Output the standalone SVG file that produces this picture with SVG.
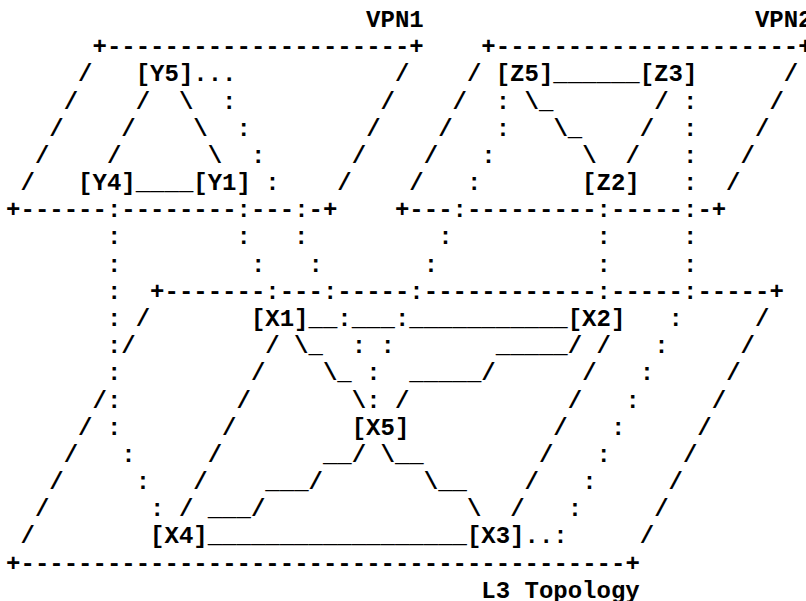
<svg xmlns="http://www.w3.org/2000/svg" width="806" height="601" viewBox="0 0 806 601">
<style>
.t{font-family:"Liberation Mono","Courier New",monospace;font-size:24px;font-weight:bold;fill:#000;white-space:pre}
</style>
<rect x="0" y="0" width="806" height="601" fill="#fff"/>
<g id="labels">
<g id="label-vpn1"><text class="t" x="366.1" y="27">VPN1</text></g>
<g id="label-vpn2"><text class="t" x="754.9" y="27">VPN2</text></g>
<g id="label-l3"><text class="t" x="481.3" y="597.8">L3 Topology</text></g>
</g>
<g id="connectors" xml:space="preserve">
<text class="t" x="92.5" y="54.18">+---------------------+    +---------------------+</text>
<text class="t" x="78.1" y="81.36">/</text>
<text class="t" x="193.3" y="81.36">...           /    /</text>
<text class="t" x="553.3" y="81.36">______</text>
<text class="t" x="783.7" y="81.36">/</text>
<text class="t" x="63.7" y="108.54">/    /  \  :          /    /  : \_       / :     /</text>
<text class="t" x="49.3" y="135.72">/    /    \  :        /    /   :   \_    /  :    /</text>
<text class="t" x="34.9" y="162.9">/    /      \  :      /    /   :      \  /   :   /</text>
<text class="t" x="20.5" y="190.08">/</text>
<text class="t" x="135.7" y="190.08">____</text>
<text class="t" x="265.3" y="190.08">:    /    /   :</text>
<text class="t" x="682.9" y="190.08">:  /</text>
<text class="t" x="6.1" y="217.26">+------:--------:---:-+    +---:---------:-----:-+</text>
<text class="t" x="106.9" y="244.44">:        :   :         :          :     :</text>
<text class="t" x="106.9" y="271.62">:         :   :       :           :     :</text>
<text class="t" x="106.9" y="298.8">:  +-------:---:-----:------------:-----:-----+</text>
<text class="t" x="106.9" y="325.98">: /</text>
<text class="t" x="308.5" y="325.98">__:___:___________</text>
<text class="t" x="668.5" y="325.98">:     /</text>
<text class="t" x="106.9" y="353.16">:/         / \_  : :       _____/ /   :     /</text>
<text class="t" x="106.9" y="380.34">:         /    \_ :  _____/      /   :     /</text>
<text class="t" x="92.5" y="407.52">/:        /       \: /           /   :     /</text>
<text class="t" x="78.1" y="434.7">/ :       /</text>
<text class="t" x="553.3" y="434.7">/   :     /</text>
<text class="t" x="63.7" y="461.88">/   :     /       __/ \__        /   :     /</text>
<text class="t" x="49.3" y="489.06">/     :   /    ___/       \__    /   :     /</text>
<text class="t" x="34.9" y="516.24">/       : / ___/              \  /   :     /</text>
<text class="t" x="20.5" y="543.42">/</text>
<text class="t" x="207.7" y="543.42">__________________</text>
<text class="t" x="524.5" y="543.42">..:     /</text>
<text class="t" x="6.1" y="570.6">+------------------------------------------+</text>
</g>
<g id="nodes">
<g id="node-Y5"><text class="t" x="135.7" y="81.36">[Y5]</text></g>
<g id="node-Z5"><text class="t" x="495.7" y="81.36">[Z5]</text></g>
<g id="node-Z3"><text class="t" x="639.7" y="81.36">[Z3]</text></g>
<g id="node-Y4"><text class="t" x="78.1" y="190.08">[Y4]</text></g>
<g id="node-Y1"><text class="t" x="193.3" y="190.08">[Y1]</text></g>
<g id="node-Z2"><text class="t" x="582.1" y="190.08">[Z2]</text></g>
<g id="node-X1"><text class="t" x="250.9" y="325.98">[X1]</text></g>
<g id="node-X2"><text class="t" x="567.7" y="325.98">[X2]</text></g>
<g id="node-X5"><text class="t" x="351.7" y="434.7">[X5]</text></g>
<g id="node-X4"><text class="t" x="150.1" y="543.42">[X4]</text></g>
<g id="node-X3"><text class="t" x="466.9" y="543.42">[X3]</text></g>
</g>
</svg>
